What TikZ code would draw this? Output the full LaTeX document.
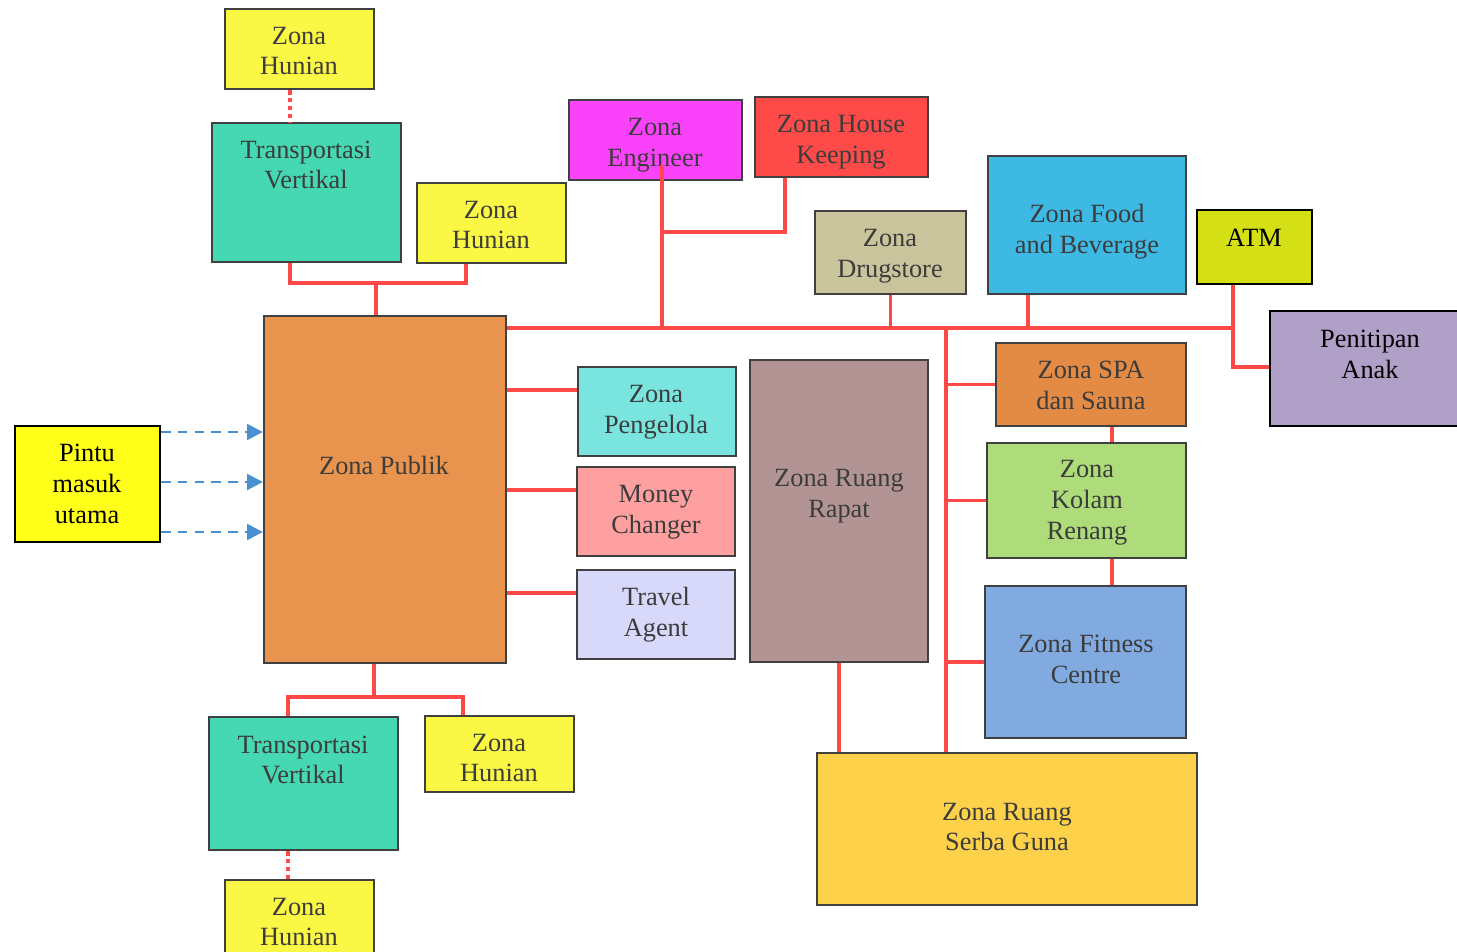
\documentclass[tikz,border=0pt]{standalone}
\usepackage{fontspec}
\setmainfont{Liberation Serif}
\usetikzlibrary{arrows.meta,fit}
\definecolor{boxline}{HTML}{404040}
\definecolor{zonetext}{HTML}{3C3C3C}
\definecolor{linkred}{HTML}{FF4848}
\definecolor{entryblue}{HTML}{4A90D0}
\definecolor{fHunian}{HTML}{FBF845}
\definecolor{fTrans}{HTML}{46D8B2}
\definecolor{fEng}{HTML}{FB42FB}
\definecolor{fHK}{HTML}{FF4A4A}
\definecolor{fDrug}{HTML}{C9C49B}
\definecolor{fFnB}{HTML}{3DB9E4}
\definecolor{fATM}{HTML}{D4E014}
\definecolor{fPen}{HTML}{B0A0C8}
\definecolor{fPub}{HTML}{E8944E}
\definecolor{fPintu}{HTML}{FFFF1A}
\definecolor{fPeng}{HTML}{7AE4DE}
\definecolor{fMoney}{HTML}{FFA0A0}
\definecolor{fTravel}{HTML}{D8D8FA}
\definecolor{fRapat}{HTML}{B39494}
\definecolor{fSPA}{HTML}{E38A45}
\definecolor{fKolam}{HTML}{AEDC7B}
\definecolor{fFit}{HTML}{80AAE0}
\definecolor{fSerba}{HTML}{FDD24A}
% \zone{name}{x1}{y1}{x2}{y2}{fill}{text x}{text y}{text}
\newcommand\zone[9]{%
  \node[zonebox, fill=#6, fit={(#2,#3)(#4,#5)}] (#1) {};
  \node[ztext] at (#7,#8) {#9};}
\newcommand\keyzone[9]{%
  \node[zonebox, draw=black, fill=#6, fit={(#2,#3)(#4,#5)}] (#1) {};
  \node[ztext, text=black] at (#7,#8) {#9};}
\begin{document}
\begin{tikzpicture}[x=0.02cm, y=-0.02cm,
  zonebox/.style={draw=boxline, line width=1.3pt, inner sep=0pt, rectangle},
  ztext/.style={text=zonetext, align=center, inner sep=0pt,
    font=\fontsize{15}{17.6}\selectfont},
  link/.style={draw=linkred, line width=2.1pt},
  dotlink/.style={link, dash pattern=on 2.5pt off 2pt},
  entry/.style={draw=entryblue, line width=1.5pt, dash pattern=on 5.5pt off 4pt,
    -{Triangle[length=9pt, width=9pt]}}]
\useasboundingbox (0,0) rectangle (1457,952);
\clip (0,0) rectangle (1457,952);

% zones
\zone{zh1}{225}{9}{374}{89}{fHunian}{299}{51}{Zona\\Hunian}
\zone{tv1}{212}{123}{401}{262}{fTrans}{306}{165}{Transportasi\\Vertikal}
\zone{zh2}{417}{183}{566}{263}{fHunian}{491}{225}{Zona\\Hunian}
\zone{eng}{569}{100}{742}{180}{fEng}{655}{145}{Zona\\Engineer}
\zone{hk}{755}{97}{928}{177}{fHK}{841}{142}{Zona House\\Keeping}
\zone{drug}{815}{211}{966}{294}{fDrug}{890}{256}{Zona\\Drugstore}
\zone{fnb}{988}{156}{1186}{294}{fFnB}{1087}{232}{Zona Food\\and Beverage}
\keyzone{atm}{1197}{210}{1312}{284}{fATM}{1254}{238}{ATM}
\keyzone{pen}{1270}{311}{1472}{426}{fPen}{1370}{354}{Penitipan\\Anak}
\zone{pub}{264}{316}{506}{663}{fPub}{384}{465}{Zona Publik}
\keyzone{pin}{15}{426}{160}{542}{fPintu}{87}{484}{Pintu\\masuk\\utama}
\zone{peng}{578}{367}{736}{456}{fPeng}{656}{412}{Zona\\Pengelola}
\zone{mon}{577}{467}{735}{556}{fMoney}{656}{512}{Money\\Changer}
\zone{trv}{577}{570}{735}{659}{fTravel}{656}{615}{Travel\\Agent}
\zone{rap}{750}{360}{928}{662}{fRapat}{839}{496}{Zona Ruang\\Rapat}
\zone{spa}{996}{343}{1186}{426}{fSPA}{1091}{385}{Zona SPA\\dan Sauna}
\zone{kol}{987}{443}{1186}{558}{fKolam}{1087}{503}{Zona\\Kolam\\Renang}
\zone{fit}{985}{586}{1186}{738}{fFit}{1086}{659}{Zona Fitness\\Centre}
\zone{sg}{817}{753}{1197}{905}{fSerba}{1007}{827}{Zona Ruang\\Serba Guna}
\zone{tv2}{209}{717}{398}{850}{fTrans}{303}{760}{Transportasi\\Vertikal}
\zone{zh3}{425}{716}{574}{792}{fHunian}{499}{758}{Zona\\Hunian}
\zone{zh4}{225}{880}{374}{970}{fHunian}{299}{922}{Zona\\Hunian}

% junction points
\coordinate (d1) at (290,0);
\coordinate (t1) at (290,283);
\coordinate (t2) at (466,283);
\coordinate (t3) at (376,283);
\coordinate (b1) at (1233,328);
\coordinate (b2) at (1233,367);
\coordinate (e1) at (662,165);
\coordinate (e2) at (662,232);
\coordinate (e3) at (785,232);
\coordinate (f1) at (1028,0);
\coordinate (s0) at (946,328);
\coordinate (k0) at (1112,0);
\coordinate (m1) at (577,390);
\coordinate (m2) at (577,490);
\coordinate (m3) at (577,593);
\coordinate (u1) at (288,697);
\coordinate (u2) at (463,697);
\coordinate (u3) at (374,697);
\coordinate (d2) at (288,0);
\coordinate (a1) at (0,432);
\coordinate (a2) at (0,482);
\coordinate (a3) at (0,532);

% upper residential link
\draw[dotlink] (zh1.south -| d1) -- (tv1.north -| d1);
\draw[link] (tv1.south -| t1) -- (t1) -- (t2) -- (zh2.south -| t2);
\draw[link] (t3) -- (pub.north -| t3);

% main service bus
\draw[link] (pub.east |- b1) -- (b1);
\draw[link] (atm.south -| b1) -- (b2) -- (pen.west |- b2);
\draw[link] (e1) -- (e1 |- b1);
\draw[link] (e2) -- (e3) -- (hk.south -| e3);
\draw[link] (drug.south) -- (drug.south |- b1);
\draw[link] (fnb.south -| f1) -- (f1 |- b1);

% right spine
\draw[link] (s0) -- (sg.north -| s0);
\draw[link] (s0 |- spa.west) -- (spa.west);
\draw[link] (s0 |- kol.west) -- (kol.west);
\draw[link] (s0 |- fit.west) -- (fit.west);
\draw[link] (spa.south -| k0) -- (kol.north -| k0);
\draw[link] (kol.south -| k0) -- (fit.north -| k0);
\draw[link] (rap.south) -- (rap.south |- sg.north);

% public zone branches
\draw[link] (pub.east |- m1) -- (m1 -| peng.west);
\draw[link] (pub.east |- m2) -- (m2 -| mon.west);
\draw[link] (pub.east |- m3) -- (m3 -| trv.west);

% lower residential link
\draw[link] (pub.south -| u3) -- (u3);
\draw[link] (tv2.north -| u1) -- (u1) -- (u2) -- (zh3.north -| u2);
\draw[dotlink] (tv2.south -| d2) -- (zh4.north -| d2);

% entrances
\draw[entry] (pin.east |- a1) -- (pub.west |- a1);
\draw[entry] (pin.east |- a2) -- (pub.west |- a2);
\draw[entry] (pin.east |- a3) -- (pub.west |- a3);
\end{tikzpicture}
\end{document}
